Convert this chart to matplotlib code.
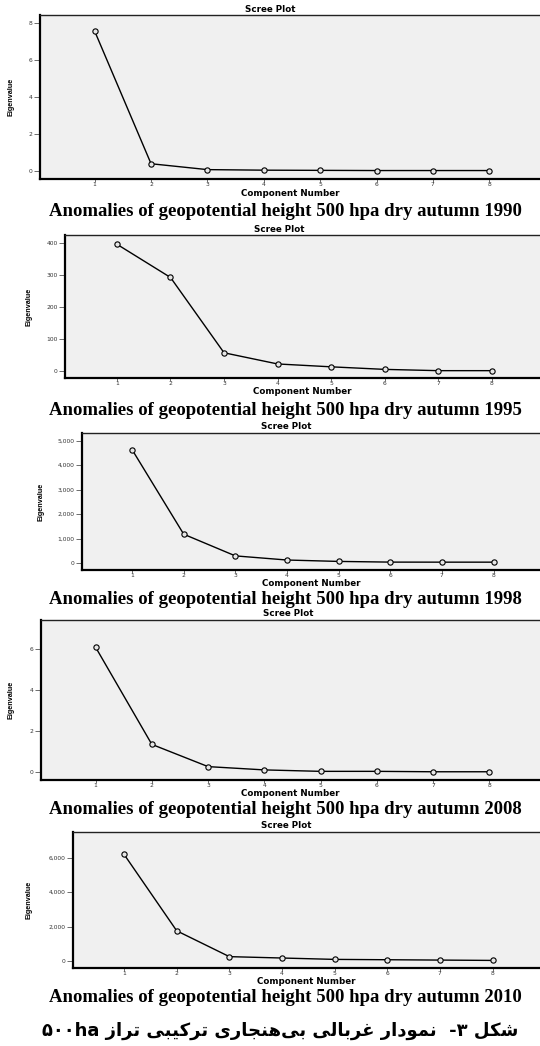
import numpy as np
import matplotlib
matplotlib.use("Agg")
import matplotlib.pyplot as plt
from matplotlib import font_manager
from matplotlib.ticker import FuncFormatter

# Data
components = [1, 2, 3, 4, 5, 6, 7, 8]
eig_1990 = [7.58, 0.37, 0.05, 0.02, 0.01, 0.0, 0.0, 0.0]
eig_1995 = [397, 293, 57, 22, 13, 5, 1, 1]
eig_1998 = [4630, 1180, 296, 127, 70, 42, 40, 40]
eig_2008 = [6.08, 1.36, 0.28, 0.12, 0.05, 0.05, 0.03, 0.03]
eig_2010 = [6200, 1760, 260, 180, 100, 80, 60, 40]

yticks_1990 = [0, 2, 4, 6, 8]
yticks_1995 = [0, 100, 200, 300, 400]
yticks_1998 = [0, 1000, 2000, 3000, 4000, 5000]
yticks_2008 = [0, 2, 4, 6]
yticks_2010 = [0, 2000, 4000, 6000]

years = ["1990", "1995", "1998", "2008", "2010"]
caption_fmt = "Anomalies of geopotential height 500 hpa dry autumn {}"
fa_caption = "شکل ۳-  نمودار غربالی بی\u200cهنجاری ترکیبی تراز ۵۰۰ha"

# Layout in pixels: left, top, bottom of axes; y-limits; title x; ylabel x
W, H = 540, 1046
layout = [
    dict(l=40, t=15, b=179, ylim=(-0.46, 8.46), tx=270, lx=11, cap=211),
    dict(l=65, t=235, b=378, ylim=(-22, 426), tx=279, lx=29, cap=410),
    dict(l=82, t=433, b=570, ylim=(-280, 5310), tx=286, lx=41, cap=599),
    dict(l=41, t=620, b=780, ylim=(-0.37, 7.4), tx=288, lx=11, cap=809),
    dict(l=73, t=832, b=968, ylim=(-400, 7500), tx=286, lx=29, cap=997),
]
series = [eig_1990, eig_1995, eig_1998, eig_2008, eig_2010]
yticks = [yticks_1990, yticks_1995, yticks_1998, yticks_2008, yticks_2010]

installed = {f.name for f in font_manager.fontManager.ttflist}
narrow = "Liberation Sans Narrow" if "Liberation Sans Narrow" in installed else "Liberation Sans"


# --- minimal Persian shaping (matplotlib does no Arabic shaping / bidi) ---
FORMS = {  # isolated, final, initial, medial
    'ا': ('\uFE8D', '\uFE8E', None, None),
    'ب': ('\uFE8F', '\uFE90', '\uFE91', '\uFE92'),
    'ت': ('\uFE95', '\uFE96', '\uFE97', '\uFE98'),
    'ج': ('\uFE9D', '\uFE9E', '\uFE9F', '\uFEA0'),
    'د': ('\uFEA9', '\uFEAA', None, None),
    'ر': ('\uFEAD', '\uFEAE', None, None),
    'ز': ('\uFEAF', '\uFEB0', None, None),
    'ش': ('\uFEB5', '\uFEB6', '\uFEB7', '\uFEB8'),
    'غ': ('\uFECD', '\uFECE', '\uFECF', '\uFED0'),
    'ل': ('\uFEDD', '\uFEDE', '\uFEDF', '\uFEE0'),
    'م': ('\uFEE1', '\uFEE2', '\uFEE3', '\uFEE4'),
    'ن': ('\uFEE5', '\uFEE6', '\uFEE7', '\uFEE8'),
    'ه': ('\uFEE9', '\uFEEA', '\uFEEB', '\uFEEC'),
    'و': ('\uFEED', '\uFEEE', None, None),
    'ک': ('\uFB8E', '\uFB8F', '\uFB90', '\uFB91'),
    'ی': ('\uFBFC', '\uFBFD', '\uFBFE', '\uFBFF'),
}


def shape_part(word):
    out = []
    for i, ch in enumerate(word):
        f = FORMS.get(ch)
        if f is None:
            out.append(ch)
            continue
        prev = FORMS.get(word[i - 1]) if i > 0 else None
        nxt = FORMS.get(word[i + 1]) if i + 1 < len(word) else None
        jp = prev is not None and prev[2] is not None
        jn = nxt is not None and f[2] is not None
        if jp and jn:
            out.append(f[3])
        elif jp:
            out.append(f[1])
        elif jn:
            out.append(f[2])
        else:
            out.append(f[0])
    return "".join(reversed(out))


def to_visual(text):
    tokens = []
    for tok in text.split(" "):
        if any(c in FORMS for c in tok):
            parts = tok.split("\u200c")
            tokens.append("".join(shape_part(p) for p in reversed(parts)))
        elif any(c.isascii() and c.isalpha() for c in tok):
            tokens.append(tok)
        else:
            tokens.append(tok[::-1])
    return " ".join(reversed(tokens))


def thousands(v, pos):
    return f"{int(round(v)):,}"


fig = plt.figure(figsize=(W / 100, H / 100), dpi=100)
fig.patch.set_facecolor("white")

for k in range(5):
    L = layout[k]
    ax = fig.add_axes([L["l"] / W, 1 - L["b"] / H, (W - L["l"]) / W, (L["b"] - L["t"]) / H])
    ax.set_facecolor("#f0f0f0")
    ax.plot(components, series[k], color="black", lw=1.0,
            marker="o", ms=3.8, mfc="#e6e6e6", mec="black", mew=0.8)
    ax.set_xlim(0.03, 8.9)
    ax.set_ylim(*L["ylim"])
    ax.set_xticks(components)
    ax.set_yticks(yticks[k])
    if max(yticks[k]) >= 1000:
        ax.yaxis.set_major_formatter(FuncFormatter(thousands))
    ax.tick_params(axis="y", labelsize=4.3, length=4, width=0.6,
                   colors="#555555", labelcolor="#333333", pad=1.2)
    ax.tick_params(axis="x", labelsize=4.3, length=1.8, width=0.6,
                   colors="#555555", labelcolor="#333333", pad=0.6)
    for s in ["left", "bottom"]:
        ax.spines[s].set_linewidth(1.6)
        ax.spines[s].set_color("black")
    ax.spines["top"].set_linewidth(1.0)
    ax.spines["top"].set_color("#222222")
    ax.spines["right"].set_visible(False)

    fig.text(L["tx"] / W, 1 - (L["t"] - 6) / H, "Scree Plot", ha="center", va="center",
             fontsize=6.3, fontweight="bold", family="DejaVu Sans")
    fig.text((L["l"] + W) / 2 / W, 1 - (L["b"] + 14) / H, "Component Number",
             ha="center", va="center", fontsize=6.3, fontweight="bold", family="DejaVu Sans")
    fig.text(L["lx"] / W, 1 - (L["t"] + L["b"]) / 2 / H, "Eigenvalue", rotation=90,
             ha="center", va="center", fontsize=5.2, fontweight="bold", family=narrow)
    fig.text(0.5 * (48 + 522) / W, 1 - L["cap"] / H, caption_fmt.format(years[k]),
             ha="center", va="center", fontsize=13.5, fontweight="bold", family="Liberation Serif")

fig.text(0.5 * (38 + 522) / W, 1 - 1031 / H, to_visual(fa_caption), ha="center", va="center",
         fontsize=13, fontweight="bold", family=["DejaVu Sans"])

fig.savefig("out.png", dpi=100)
